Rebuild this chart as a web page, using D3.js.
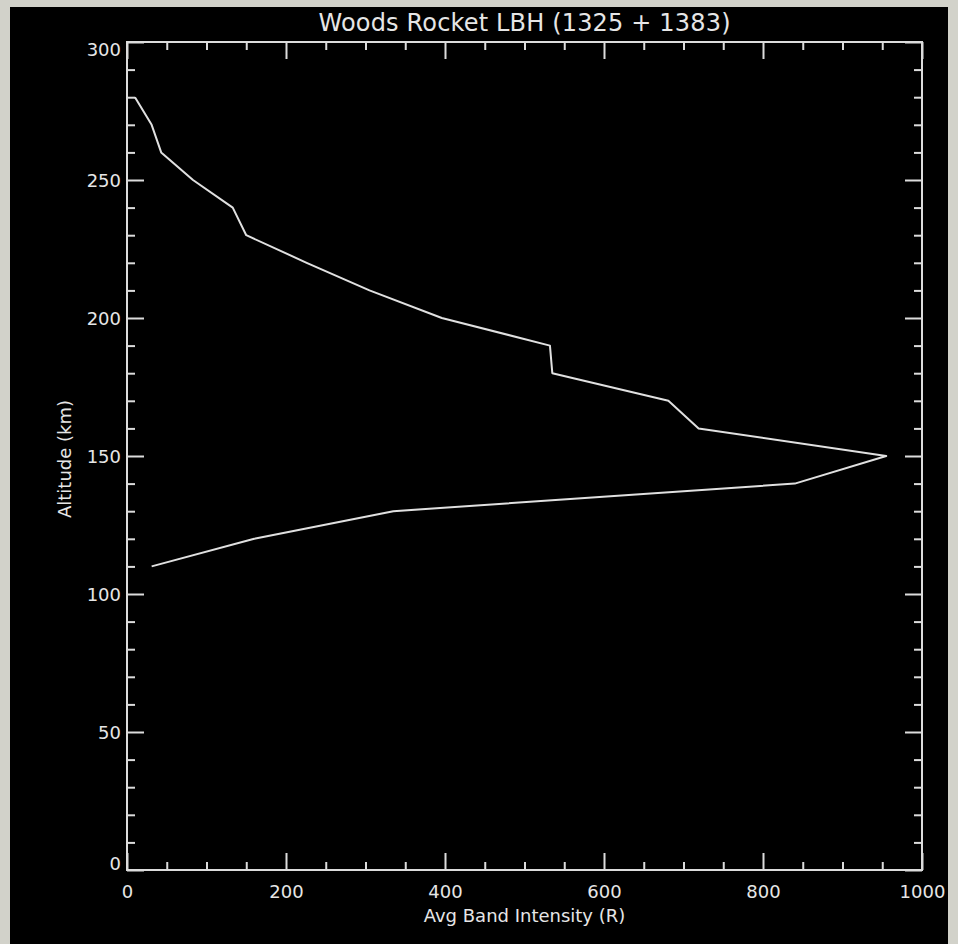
<!DOCTYPE html>
<html>
<head>
<meta charset="utf-8">
<script src="https://cdn.jsdelivr.net/npm/d3@7"></script>
<style>
  body { margin: 0; background: #d2d2ca; }
  text { font-family: "DejaVu Sans", sans-serif; fill: #e6e6e6; }
</style>
</head>
<body>
<div id="chart"></div>
<script>
var w = 958;
var h = 944;

// values (altitude in km, intensity in R)
var altitude  = [280, 270, 260, 250, 240, 230, 220, 210, 200, 190, 180, 170, 160, 150, 140, 130, 120, 110];
var intensity = [10, 31, 43, 83, 133, 150, 226, 305, 396, 532, 535, 681, 719, 955, 840, 335, 160, 31];

var xMajor = [0, 200, 400, 600, 800, 1000];
var xMinor = [50, 100, 150, 250, 300, 350, 450, 500, 550, 650, 700, 750, 850, 900, 950];
var yMajor = [0, 50, 100, 150, 200, 250, 300];
var yMinor = [10, 20, 30, 40, 60, 70, 80, 90, 110, 120, 130, 140, 160, 170, 180, 190, 210, 220, 230, 240, 260, 270, 280, 290];

// plot box (window.top is reserved, so p-prefixed names)
var pLeft = 127, pRight = 922, pTop = 42, pBottom = 870;

var svg = d3.select("#chart").append("svg")
            .attr("width", w)
            .attr("height", h);

// black window
svg.append("rect")
   .attr("x", 10).attr("y", 7)
   .attr("width", 938).attr("height", 937)
   .attr("fill", "#000");

var x = d3.scaleLinear().domain([0, 1000]).range([pLeft, pRight]);
var y = d3.scaleLinear().domain([0, 300]).range([pBottom, pTop]);

function styleAxis(g) {
  g.select(".domain").remove();
  g.selectAll("line").attr("stroke", "#dcdcdc").attr("stroke-width", 2);
  g.selectAll("text").attr("fill", "#e6e6e6").style("font-size", "18px")
   .style("font-family", "DejaVu Sans, sans-serif");
}

// bottom
svg.append("g").attr("transform", "translate(0," + pBottom + ")")
   .call(d3.axisBottom(x).tickValues(xMajor).tickSize(-17).tickPadding(15).tickFormat(d3.format("d")))
   .call(styleAxis);
svg.append("g").attr("transform", "translate(0," + pBottom + ")")
   .call(d3.axisBottom(x).tickValues(xMinor).tickSize(-8).tickFormat(""))
   .call(styleAxis);
// top
svg.append("g").attr("transform", "translate(0," + pTop + ")")
   .call(d3.axisTop(x).tickValues(xMajor).tickSize(-17).tickFormat(""))
   .call(styleAxis);
svg.append("g").attr("transform", "translate(0," + pTop + ")")
   .call(d3.axisTop(x).tickValues(xMinor).tickSize(-8).tickFormat(""))
   .call(styleAxis);
// left
var yl = svg.append("g").attr("transform", "translate(" + pLeft + ",0)")
   .call(d3.axisLeft(y).tickValues(yMajor).tickSize(-17).tickPadding(6).tickFormat(d3.format("d")))
   .call(styleAxis);
yl.selectAll("text").attr("dy", function(d) {
  if (d == 300) return "0.75em";
  if (d == 0) return "-0.05em";
  return "0.36em";
});
svg.append("g").attr("transform", "translate(" + pLeft + ",0)")
   .call(d3.axisLeft(y).tickValues(yMinor).tickSize(-8).tickFormat(""))
   .call(styleAxis);
// right
svg.append("g").attr("transform", "translate(" + pRight + ",0)")
   .call(d3.axisRight(y).tickValues(yMajor).tickSize(-17).tickFormat(""))
   .call(styleAxis);
svg.append("g").attr("transform", "translate(" + pRight + ",0)")
   .call(d3.axisRight(y).tickValues(yMinor).tickSize(-8).tickFormat(""))
   .call(styleAxis);

// frame
svg.append("rect")
   .attr("x", pLeft).attr("y", pTop)
   .attr("width", pRight - pLeft).attr("height", pBottom - pTop)
   .attr("fill", "none")
   .attr("stroke", "#dcdcdc")
   .attr("stroke-width", 2);

// profile
var line = d3.line()
             .x(function(d, i) { return x(intensity[i]); })
             .y(function(d) { return y(d); });

svg.append("path")
   .datum(altitude)
   .attr("d", line)
   .attr("fill", "none")
   .attr("stroke", "#e0e0e0")
   .attr("stroke-width", 2)
   .attr("stroke-linejoin", "round");

// titles
svg.append("text")
   .attr("x", (pLeft + pRight) / 2).attr("y", 31)
   .attr("text-anchor", "middle")
   .style("font-size", "24px")
   .attr("textLength", 412)
   .text("Woods Rocket LBH (1325 + 1383)");

svg.append("text")
   .attr("x", (pLeft + pRight) / 2).attr("y", 922)
   .attr("text-anchor", "middle")
   .style("font-size", "18px")
   .text("Avg Band Intensity (R)");

svg.append("text")
   .attr("transform", "translate(71,459) rotate(-90)")
   .attr("text-anchor", "middle")
   .style("font-size", "18px")
   .text("Altitude (km)");
</script>
</body>
</html>
